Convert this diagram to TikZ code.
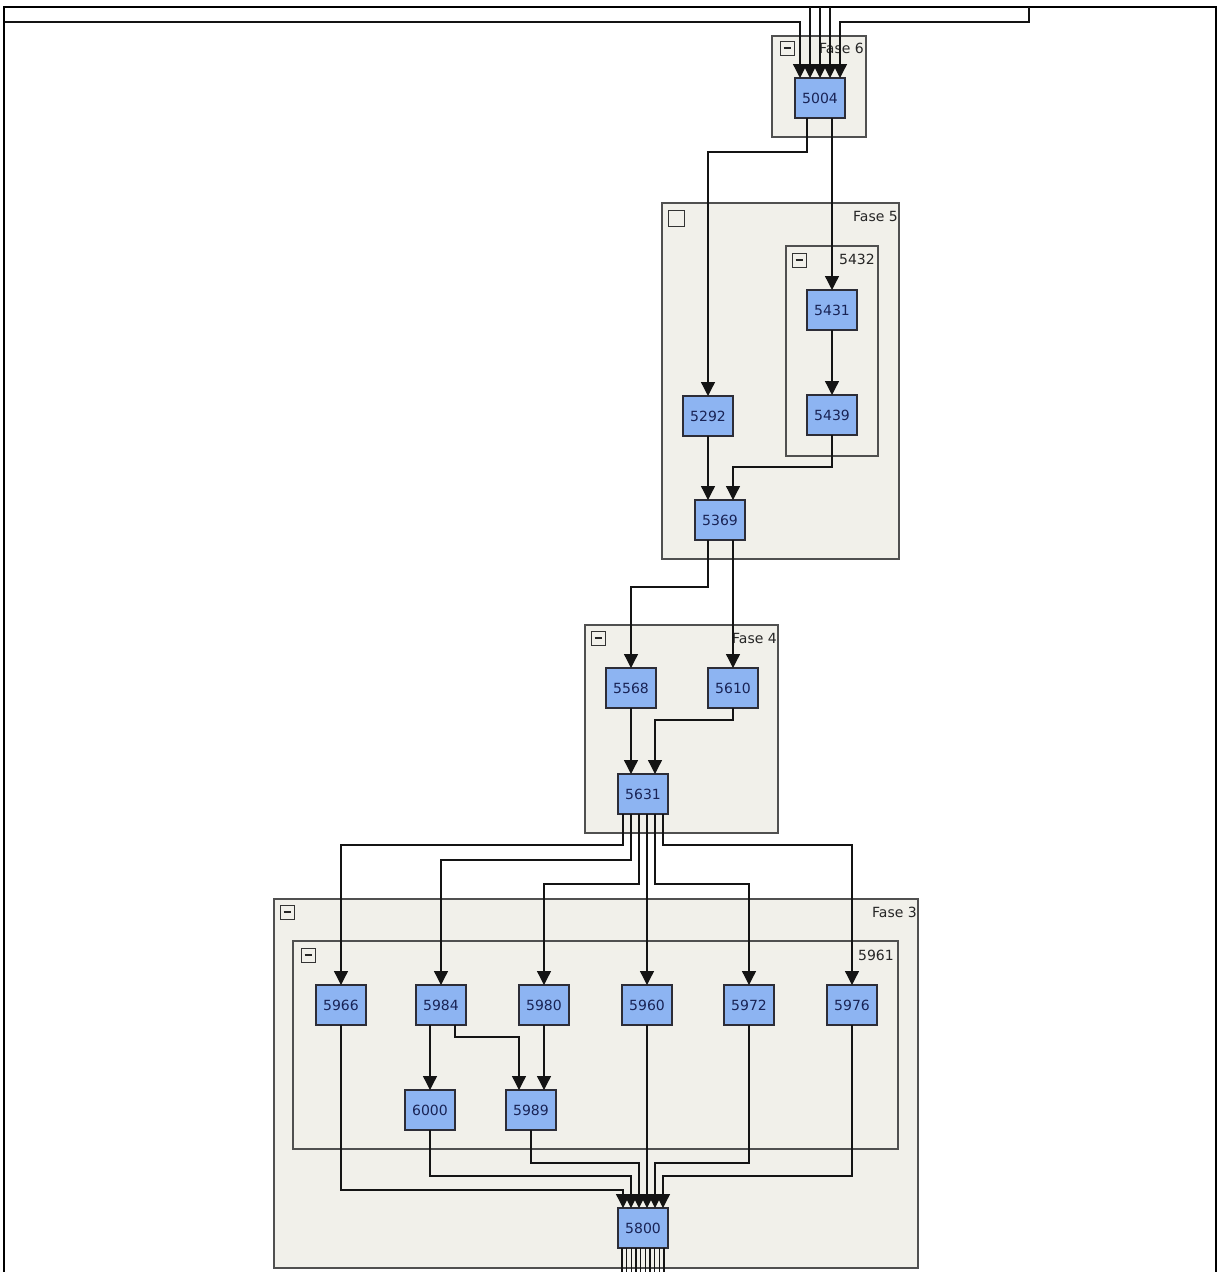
\documentclass[tikz,border=0pt]{standalone}
\usepackage{fontspec}
\setmainfont{DejaVu Sans}
\usetikzlibrary{arrows.meta,calc}
\definecolor{boxblue}{RGB}{141,180,242}
\definecolor{boxline}{RGB}{45,45,55}
\definecolor{boxtext}{RGB}{25,35,85}
\definecolor{framefill}{RGB}{241,240,234}
\definecolor{frameline}{RGB}{80,80,80}
\definecolor{wirec}{RGB}{20,20,20}
\begin{document}
\begin{tikzpicture}[x=1pt,y=-1pt,
  blk/.style={draw=boxline, line width=1.1pt, fill=boxblue, minimum width=50pt, minimum height=40pt, inner sep=0pt, outer sep=0pt, text=boxtext, font=\fontsize{14}{14}\selectfont},
  grp/.style={draw=frameline, line width=1.2pt, fill=framefill, inner sep=0pt, outer sep=0pt},
  tog/.style={draw=black!80, line width=1pt, minimum size=14pt, inner sep=0pt, outer sep=0pt},
  togm/.style={tog, path picture={\draw[black!85, line width=1.1pt] ([xshift=3.5pt]path picture bounding box.west) -- ([xshift=-3.5pt]path picture bounding box.east);}},
  lbl/.style={anchor=east, inner sep=0pt, font=\fontsize{14}{14}\selectfont, text=black!85},
  wire/.style={draw=wirec, line width=1.3pt, -{Triangle[width=14pt,length=14pt]}},
  plainwire/.style={draw=wirec, line width=1.3pt}
]
\useasboundingbox (0,0) rectangle (1218,1272);
\fill[white] (0,0) rectangle (1218,1272);

% group frames
\node[grp, minimum width=94pt, minimum height=101pt] (f6) at (819,86.5) {};
\node[grp, minimum width=237pt, minimum height=356pt] (f5) at (780.5,381) {};
\node[grp, minimum width=92pt, minimum height=210pt] (f5432) at (832,351) {};
\node[grp, minimum width=193pt, minimum height=208pt] (f4) at (681.5,729) {};
\node[grp, minimum width=644pt, minimum height=369pt] (f3) at (596,1083.5) {};
\node[grp, minimum width=605pt, minimum height=208pt] (f5961) at (595.5,1045) {};

% toggles
\node[togm] (t6) at (787,48) {};
\node[tog, minimum size=16pt] (t5) at (676,218) {};
\node[togm] (t5432) at (799,260) {};
\node[togm] (t4) at (598,638) {};
\node[togm] (t3) at (287,912) {};
\node[togm] (t5961) at (308,955) {};

% labels
\node[lbl] (l6) at (864,48) {Fase 6};
\node[lbl] (l5) at (898,216) {Fase 5};
\node[lbl] (l5432) at (875,259) {5432};
\node[lbl] (l4) at (777,638) {Fase 4};
\node[lbl] (l3) at (917,912) {Fase 3};
\node[lbl] (l5961) at (894,955) {5961};

% outer frame
\draw[line width=2pt, black] (4,1272) -- (4,7) -- (1216,7) -- (1216,1272);

% boxes
\node[blk] (n5004) at (820,98) {5004};
\node[blk] (n5431) at (832,310) {5431};
\node[blk] (n5439) at (832,415) {5439};
\node[blk] (n5292) at (708,416) {5292};
\node[blk] (n5369) at (720,520) {5369};
\node[blk] (n5568) at (631,688) {5568};
\node[blk] (n5610) at (733,688) {5610};
\node[blk] (n5631) at (643,794) {5631};
\node[blk] (n5966) at (341,1005) {5966};
\node[blk] (n5984) at (441,1005) {5984};
\node[blk] (n5980) at (544,1005) {5980};
\node[blk] (n5960) at (647,1005) {5960};
\node[blk] (n5972) at (749,1005) {5972};
\node[blk] (n5976) at (852,1005) {5976};
\node[blk] (n6000) at (430,1110) {6000};
\node[blk] (n5989) at (531,1110) {5989};
\node[blk] (n5800) at (643,1228) {5800};

% incoming into 5004
\coordinate (inL) at (5,22);
\coordinate (inT) at (0,7);
\coordinate (inR) at (1029,7);
\foreach \d/\n in {-20/a1,-10/a2,0/a3,10/a4,20/a5}
  \coordinate (\n) at ([xshift=\d pt]n5004.north);
\draw[wire] (inL) -| (a1);
\draw[wire] (a2 |- inT) -- (a2);
\draw[wire] (a3 |- inT) -- (a3);
\draw[wire] (a4 |- inT) -- (a4);
\draw[wire] (inR) -- (inR |- inL) -| (a5);

% Fase 6 -> Fase 5
\draw[wire] ([xshift=-13pt]n5004.south) -- ++(0,34) -| (n5292.north);
\draw[wire] ([xshift=12pt]n5004.south) -- (n5431.north);
\draw[wire] (n5431.south) -- (n5439.north);
\draw[wire] (n5292.south) -- ([xshift=-12pt]n5369.north);
\draw[wire] (n5439.south) -- ++(0,32) -| ([xshift=13pt]n5369.north);

% Fase 5 -> Fase 4
\draw[wire] ([xshift=-12pt]n5369.south) -- ++(0,47) -| (n5568.north);
\draw[wire] ([xshift=13pt]n5369.south) -- (n5610.north);
\draw[wire] (n5568.south) -- ([xshift=-12pt]n5631.north);
\draw[wire] (n5610.south) -- ++(0,12) -| ([xshift=12pt]n5631.north);

% Fase 4 -> Fase 3
\draw[wire] ([xshift=-20pt]n5631.south) -- ++(0,31) -| (n5966.north);
\draw[wire] ([xshift=-12pt]n5631.south) -- ++(0,46) -| (n5984.north);
\draw[wire] ([xshift=-4pt]n5631.south) -- ++(0,70) -| (n5980.north);
\draw[wire] ([xshift=4pt]n5631.south) -- (n5960.north);
\draw[wire] ([xshift=12pt]n5631.south) -- ++(0,70) -| (n5972.north);
\draw[wire] ([xshift=20pt]n5631.south) -- ++(0,31) -| (n5976.north);

% inside 5961
\draw[wire] ([xshift=-11pt]n5984.south) -- (n6000.north);
\draw[wire] ([xshift=14pt]n5984.south) -- ++(0,12) -| ([xshift=-12pt]n5989.north);
\draw[wire] (n5980.south) -- ([xshift=13pt]n5989.north);

% into 5800
\draw[wire] (n5966.south) -- ++(0,165) -| ([xshift=-20pt]n5800.north);
\draw[wire] (n6000.south) -- ++(0,46) -| ([xshift=-12pt]n5800.north);
\draw[wire] (n5989.south) -- ++(0,33) -| ([xshift=-4pt]n5800.north);
\draw[wire] (n5960.south) -- ([xshift=4pt]n5800.north);
\draw[wire] (n5972.south) -- ++(0,138) -| ([xshift=12pt]n5800.north);
\draw[wire] (n5976.south) -- ++(0,151) -| ([xshift=20pt]n5800.north);

% out of 5800
\foreach \i [evaluate=\i as \d using -21+\i*4.667] in {0,...,9}
  \draw[plainwire] ([xshift=\d pt]n5800.south) -- ++(0,30);
\end{tikzpicture}
\end{document}
